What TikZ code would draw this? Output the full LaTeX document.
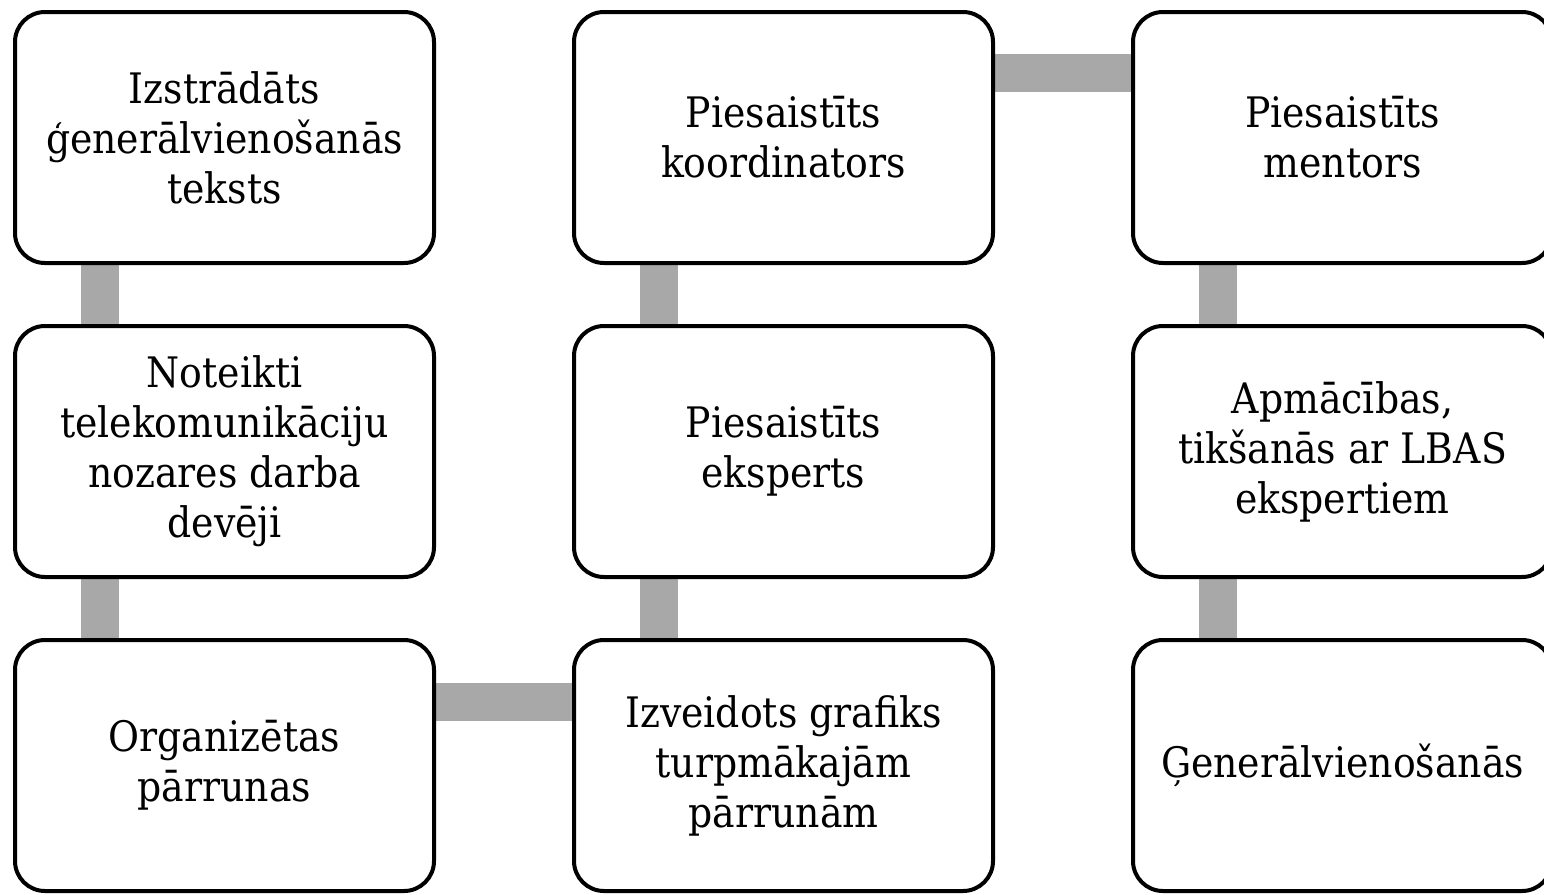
\documentclass[tikz,border=0pt]{standalone}
\usepackage{fontspec}
\setmainfont{DejaVu Serif Condensed}
\usepackage{xcolor}
\usetikzlibrary{positioning,backgrounds}

\definecolor{linkgray}{HTML}{A8A8A8}

\begin{document}
\begin{tikzpicture}[node distance=59pt and 136pt,
    stepbox/.style={draw, line width=4pt, rounded corners=30pt, fill=white,
                    minimum width=419pt, minimum height=251pt, align=center,
                    font=\fontsize{42}{50}\selectfont},
    link/.style={draw=linkgray, line width=38pt}]
  \clip (0,0) rectangle (1544pt,-894pt);

  \node[stepbox] (S1) at (224.5pt,-137.5pt) {Izstrādāts\\ģenerālvienošanās\\teksts};
  \node[stepbox] (S2) [below=of S1] {Noteikti\\telekomunikāciju\\nozares darba\\devēji};
  \node[stepbox] (S3) [below=of S2] {Organizētas\\pārrunas};
  \node[stepbox] (S4) [right=of S3] {Izveidots grafiks\\turpmākajām\\pārrunām};
  \node[stepbox] (S5) [above=of S4] {Piesaistīts\\eksperts};
  \node[stepbox] (S6) [above=of S5] {Piesaistīts\\koordinators};
  \node[stepbox] (S7) [right=of S6] {Piesaistīts\\mentors};
  \node[stepbox] (S8) [below=of S7] {Apmācības,\\tikšanās ar LBAS\\ekspertiem};
  \node[stepbox] (S9) [below=of S8] {Ģenerālvienošanās};

  \begin{scope}[on background layer]
    \draw[link] ([xshift=-125pt]S1.south) -- ([xshift=-125pt]S2.north)
                ([xshift=-125pt]S2.south) -- ([xshift=-125pt]S3.north)
                ([yshift=64pt]S3.east)    -- ([yshift=64pt]S4.west)
                ([xshift=-125pt]S4.north) -- ([xshift=-125pt]S5.south)
                ([xshift=-125pt]S5.north) -- ([xshift=-125pt]S6.south)
                ([yshift=65pt]S6.east)    -- ([yshift=65pt]S7.west)
                ([xshift=-125pt]S7.south) -- ([xshift=-125pt]S8.north)
                ([xshift=-125pt]S8.south) -- ([xshift=-125pt]S9.north);
  \end{scope}
\end{tikzpicture}
\end{document}
